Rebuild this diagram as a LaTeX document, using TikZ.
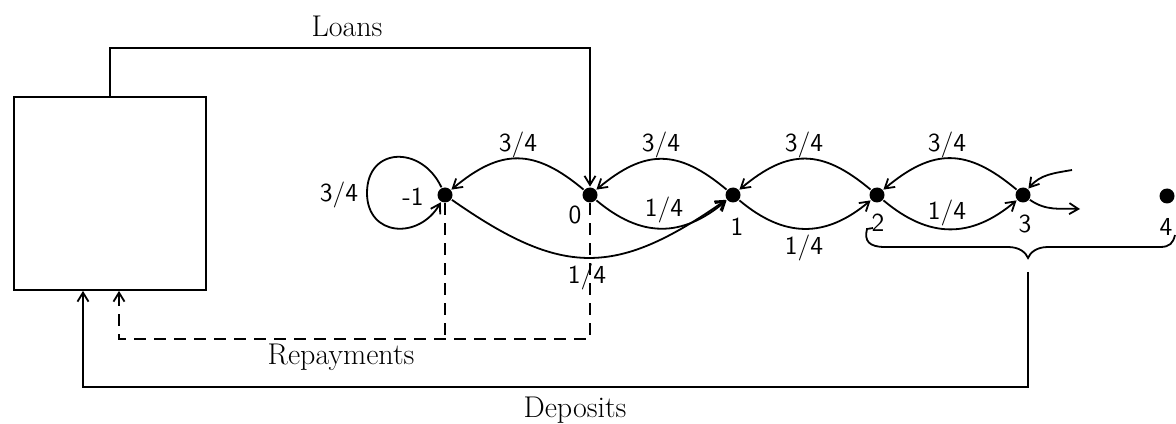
\documentclass[tikz,border=0pt]{standalone}
\usetikzlibrary{arrows.meta}
\begin{document}
\begin{tikzpicture}[x=0.5pt,y=0.5pt,
  line width=0.9pt,
  dot/.style={circle,fill,inner sep=0pt,minimum size=7.5pt},
  num/.style={font=\sffamily\fontsize{13}{15}\selectfont,inner sep=1pt},
  lbl/.style={font=\fontsize{15}{17}\selectfont,inner sep=1pt},
  arr/.style={-{Straight Barb[length=4.5pt,width=5.5pt]}},
  dsh/.style={dash pattern=on 6pt off 4pt},
  ]
\useasboundingbox (0,0) rectangle (1176,423);
% box
\node[draw,minimum width=96pt,minimum height=96.5pt,inner sep=0pt] (box) at (110,229.5) {};
% states
\node[dot] (m1) at (445,228) {};
\node[dot] (n0) at (590,228) {};
\node[dot] (n1) at (733,228) {};
\node[dot] (n2) at (877,228) {};
\node[dot] (n3) at (1023,228) {};
\node[dot] (n4) at (1167,227) {};
\node[num] (lm1) at (413,226) {-1};
\node[num] (l0) at (575,208) {0};
\node[num] (l1) at (737,196) {1};
\node[num] (l2) at (878,200) {2};
\node[num] (l3) at (1025,199) {3};
\node[num] (l4) at (1166,196) {4};
% probability labels
\node[num] (p1) at (339,228) {3/4};
\node[num] (p2) at (518,278) {3/4};
\node[num] (p3) at (587,146) {1/4};
\node[num] (p4) at (661,278) {3/4};
\node[num] (p5) at (664,213) {1/4};
\node[num] (p6) at (804,278) {3/4};
\node[num] (p7) at (804,175) {1/4};
\node[num] (p8) at (947,278) {3/4};
\node[num] (p9) at (947,210) {1/4};
% flow labels
\node[lbl] (loans) at (347,397) {Loans};
\node[lbl] (rep) at (341,66) {Repayments};
\node[lbl] (dep) at (575,13) {Deposits};
% transitions
\coordinate (loopL) at (367,230);
\draw[arr] (m1) to[out=115,in=90,looseness=1.6] (loopL) to[out=-90,in=-120,looseness=1.5] (m1);
\draw[arr] (n0) to[out=140,in=40,looseness=1.25] (m1);
\draw[arr] (m1) to[out=-35,in=-145,looseness=1.26] (n1);
\draw[arr] (n1) to[out=140,in=40,looseness=1.25] (n0);
\draw[arr] (n0) to[out=-40,in=-140,looseness=1.15] (n1);
\draw[arr] (n2) to[out=140,in=40,looseness=1.25] (n1);
\draw[arr] (n1) to[out=-40,in=-140,looseness=1.15] (n2);
\draw[arr] (n3) to[out=140,in=40,looseness=1.25] (n2);
\draw[arr] (n2) to[out=-40,in=-140,looseness=1.15] (n3);
\coordinate (inR) at (1072,253);
\coordinate (outR) at (1080,214);
\draw[arr] (inR) to[out=190,in=50] (n3);
\draw[arr] (n3) to[out=-35,in=178] (outR);
% loans
\coordinate (lup) at (590,375);
\draw[arr] (box.north) |- (lup) -- (n0);
% deposits
\coordinate (dtop) at (1028,151);
\coordinate (dlow) at (83,36);
\draw[arr] (dtop) |- (dlow) -- (dlow |- box.south);
% repayments
\coordinate (rlow) at (119,84);
\draw[dsh] (m1) -- (m1 |- rlow);
\draw[dsh,arr] (n0) |- (rlow) -- (rlow |- box.south);
% brace
\draw (873,195) -- (867,194) .. controls (864,182) and (869,176) .. (885,176) -- (1008,176)
  .. controls (1020,176) and (1026,170) .. (1028,165)
  .. controls (1030,170) and (1036,176) .. (1048,176) -- (1160,176)
  .. controls (1170,176) and (1173,180) .. (1175,188);
\end{tikzpicture}
\end{document}
